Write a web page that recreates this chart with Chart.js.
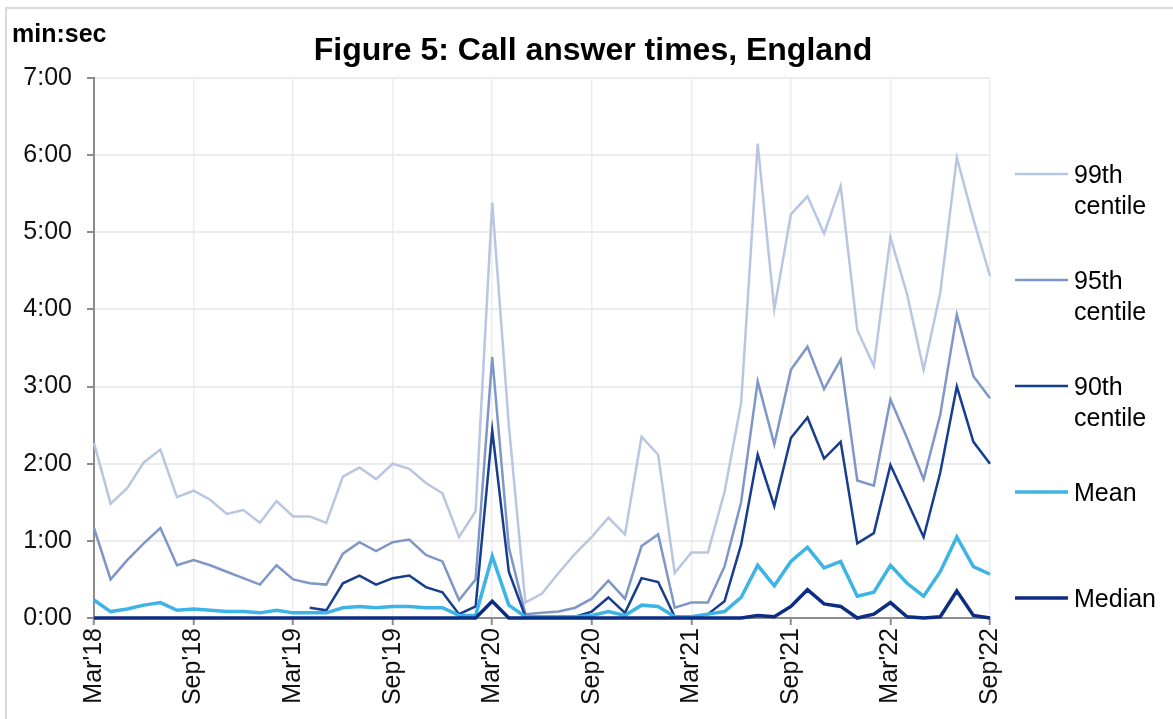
<!DOCTYPE html>
<html>
<head>
<meta charset="utf-8">
<script src="https://cdn.jsdelivr.net/npm/chart.js@4.4.1/dist/chart.umd.min.js"></script>
<style>
  body { margin: 0; background: #fff; }
  #wrap { position: absolute; left: 0; top: 0; width: 1173px; height: 719px; }
  #frame { position: absolute; left: 5px; top: 7px; width: 1200px; height: 740px;
           border-left: 2px solid #d9d9d9; border-top: 2px solid #d9d9d9; }
  canvas { position: absolute; left: 0; top: 0; }
</style>
</head>
<body>
<div id="wrap">
  <div id="frame"></div>
  <canvas id="myChart" width="1173" height="719"></canvas>
</div>
<script>
// months Mar'18 .. Sep'22
const monthNames = ["Jan", "Feb", "Mar", "Apr", "May", "Jun", "Jul", "Aug", "Sep", "Oct", "Nov", "Dec"];
const months = [];
for (let y = 2018, m = 2; y < 2022 || (y == 2022 && m <= 8); ) {
  months.push(monthNames[m] + "'" + String(y).slice(2));
  m++;
  if (m > 11) { m = 0; y++; }
}

// values in seconds
const centile99 = [136, 89, 101, 121, 131, 94, 99, 92, 81, 84, 74, 91, 79, 79, 74, 110, 117, 108, 120, 116,
  105, 97, 63, 83, 323, 150, 12, 19, 35, 50, 63, 78, 65, 141, 127, 35, 51, 51, 98, 167,
  369, 240, 314, 328, 299, 336, 224, 196, 296, 252, 193, 253, 358, 310, 266];
const centile95 = [70, 30, 45, 58, 70, 41, 45, 41, 36, 31, 26, 41, 30, 27, 26, 50, 59, 52, 59, 61,
  49, 44, 14, 30, 203, 55, 3, 4, 5, 8, 15, 29, 15, 56, 65, 8, 12, 12, 40, 90,
  184, 135, 193, 211, 178, 201, 107, 103, 170, 140, 108, 158, 236, 188, 171];
const centile90 = [null, null, null, null, null, null, null, null, null, null, null, null, null, 8, 6, 27, 33, 26, 31, 33,
  24, 20, 3, 9, 146, 36, 1, 1, 1, 1, 5, 16, 4, 31, 28, 1, 1, 3, 13, 57,
  127, 87, 140, 156, 124, 137, 58, 66, 119, 91, 63, 113, 180, 137, 120];
const meanTime = [14, 5, 7, 10, 12, 6, 7, 6, 5, 5, 4, 6, 4, 4, 4, 8, 9, 8, 9, 9,
  8, 8, 2, 2, 48, 10, 1, 1, 1, 1, 2, 5, 2, 10, 9, 1, 1, 3, 5, 16,
  41, 25, 44, 55, 39, 44, 17, 20, 41, 27, 17, 36, 63, 40, 34];
const medianTime = [0, 0, 0, 0, 0, 0, 0, 0, 0, 0, 0, 0, 0, 0, 0, 0, 0, 0, 0, 0,
  0, 0, 0, 0, 13, 0, 0, 0, 0, 0, 0, 0, 0, 0, 0, 0, 0, 0, 0, 0,
  2, 1, 9, 22, 11, 9, 0, 3, 12, 1, 0, 1, 21, 2, 0];

const seriesNames = [["Median"], ["Mean"], ["90th", "centile"], ["95th", "centile"], ["99th", "centile"]];
const seriesColors = ["#0c2d83", "#3db4e5", "#163d8e", "#7f97c7", "#b8c6e1"];
const seriesWidths = [3.5, 3.5, 2.5, 2.5, 2.5];
const seriesData = [medianTime, meanTime, centile90, centile95, centile99];

const FONT = "'Liberation Sans', Arial, sans-serif";

const fmt = (v) => Math.floor(v / 60) + ":" + String(v % 60).padStart(2, "0");

// title, unit label and the right-hand legend
const decorPlugin = {
  id: "decor",
  afterDraw(chart) {
    const ctx = chart.ctx;
    ctx.save();
    ctx.fillStyle = "#000";
    ctx.textBaseline = "alphabetic";
    ctx.font = "bold 32px " + FONT;
    ctx.textAlign = "center";
    ctx.fillText("Figure 5: Call answer times, England", 593, 60);
    ctx.font = "bold 25px " + FONT;
    ctx.textAlign = "left";
    ctx.fillText("min:sec", 12, 42);

    // legend, top to bottom = reverse dataset order
    ctx.font = "25px " + FONT;
    ctx.textBaseline = "middle";
    const n = chart.data.datasets.length;
    for (let i = 0; i < n; i++) {
      const ds = chart.data.datasets[n - 1 - i];
      const y = 174 + i * 106;
      ctx.strokeStyle = ds.borderColor;
      ctx.lineWidth = ds.borderWidth;
      ctx.beginPath();
      ctx.moveTo(1015, y);
      ctx.lineTo(1068, y);
      ctx.stroke();
      ds.label.forEach((t, k) => ctx.fillText(t, 1074, y + 2 + k * 31));
    }
    ctx.restore();
  },
};

const ctx = document.getElementById("myChart").getContext("2d");
const myChart = new Chart(ctx, {
  type: "line",
  data: {
    labels: months,
    datasets: seriesData.map((d, i) => ({
      label: seriesNames[i],
      data: d,
      borderColor: seriesColors[i],
      backgroundColor: seriesColors[i],
      borderWidth: seriesWidths[i],
      pointRadius: 0,
      tension: 0,
      spanGaps: false,
      clip: 4,
    })),
  },
  options: {
    responsive: false,
    animation: false,
    layout: { padding: { top: 78, right: 183, bottom: 0, left: 0 } },
    plugins: {
      legend: { display: false },
      title: { display: false },
      tooltip: { enabled: false },
    },
    scales: {
      x: {
        offset: false,
        afterFit: (s) => { s.height = 101; },
        border: { color: "#8c8c8c", width: 2 },
        grid: {
          color: (c) => (c.index % 6 == 0 ? "#ececec" : "rgba(0,0,0,0)"),
          tickColor: (c) => (c.index % 6 == 0 ? "#8c8c8c" : "rgba(0,0,0,0)"),
          lineWidth: 1.5,
          tickWidth: 2,
          tickLength: 7,
        },
        ticks: {
          autoSkip: false,
          minRotation: 90,
          maxRotation: 90,
          padding: 3,
          color: "#111",
          font: { family: FONT, size: 25 },
          callback: (v, i) => (i % 6 == 0 ? months[i] : ""),
        },
      },
      y: {
        min: 0,
        max: 420,
        afterFit: (s) => { s.width = 94; },
        border: { color: "#8c8c8c", width: 2 },
        grid: {
          color: "#ececec",
          lineWidth: 2,
          tickColor: "#8c8c8c",
          tickWidth: 2,
          tickLength: 7,
        },
        ticks: {
          stepSize: 60,
          padding: 15,
          color: "#111",
          font: { family: FONT, size: 25 },
          callback: (v) => fmt(v),
        },
      },
    },
  },
  plugins: [decorPlugin],
});
</script>
</body>
</html>
